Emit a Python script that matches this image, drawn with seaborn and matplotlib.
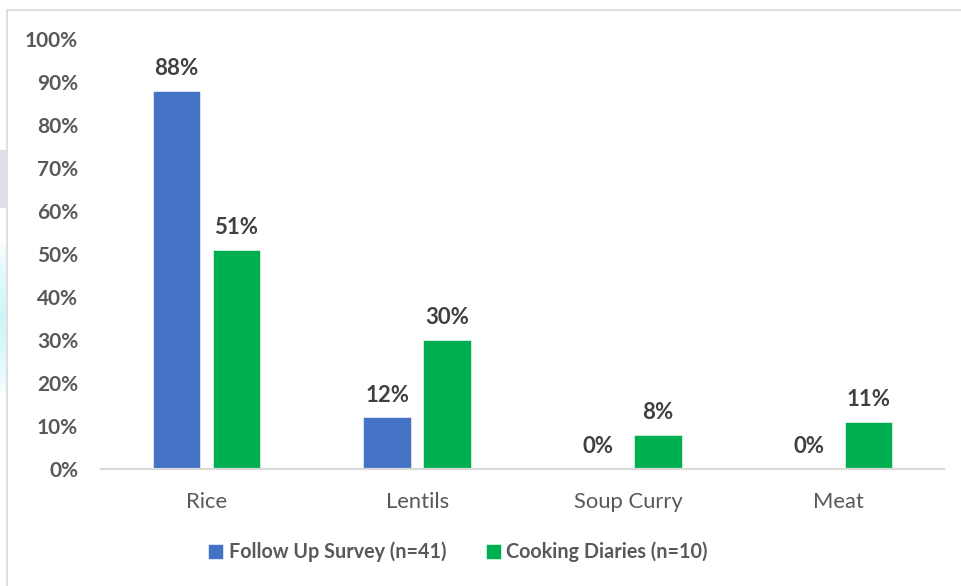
import numpy as np
import pandas as pd
import matplotlib
matplotlib.use("Agg")
import matplotlib.pyplot as plt
from matplotlib.patches import Rectangle
import seaborn as sns

# Share of households reporting each food item, by data source
categories = ["Rice", "Lentils", "Soup Curry", "Meat"]
series_names = ["Follow Up Survey (n=41)", "Cooking Diaries (n=10)"]
follow_up = [88, 12, 0, 0]
cooking_diaries = [51, 30, 8, 11]
y_ticks = [0, 10, 20, 30, 40, 50, 60, 70, 80, 90, 100]
y_tick_labels = [f"{t}%" for t in y_ticks]

colors = {series_names[0]: "#4472C4", series_names[1]: "#00B050"}

df = pd.DataFrame({
    "category": categories * 2,
    "series": [series_names[0]] * len(categories) + [series_names[1]] * len(categories),
    "value": follow_up + cooking_diaries,
})

sns.set_theme(style="white")
plt.rcParams["font.family"] = ["Lato", "DejaVu Sans"]

W, H = 961, 586
fig = plt.figure(figsize=(W / 100, H / 100), dpi=100)
fig.patch.set_facecolor("white")

# Faint tinted strip along the left edge of the page
strip = np.ones((H, 1, 4))
strip[..., 3] = 0.0
rows = np.arange(H)
gray = (rows >= 150) & (rows <= 207)
strip[gray, 0, :3] = np.array([216, 214, 224]) / 255
strip[gray, 0, 3] = 0.8
cyan_w = np.clip(1 - np.abs(rows - 318) / 75, 0, 1) ** 0.6
cyan = cyan_w > 0
strip[cyan, 0, :3] = np.array([196, 244, 248]) / 255
strip[cyan, 0, 3] = cyan_w[cyan] * 0.85
sax = fig.add_axes([0, 0, 6 / W, 1])
sax.imshow(strip, aspect="auto", interpolation="bilinear")
sax.set_axis_off()

# Chart frame
fig.add_artist(Rectangle((7 / W, -0.01), 1.2, (H - 10) / H + 0.01,
                         transform=fig.transFigure, fill=False,
                         edgecolor="#d9d9d9", linewidth=1.2))

ax = fig.add_axes([101 / W, (H - 469) / H, (944 - 101) / W, (469 - 39) / H])

sns.barplot(data=df, x="category", y="value", hue="series",
            order=categories, hue_order=series_names, palette=colors,
            width=0.57, gap=0.21, dodge=True, ax=ax,
            edgecolor="white", linewidth=0.4, saturation=1)

ax.set_xlim(-0.5, len(categories) - 0.5)
ax.set_ylim(0, 100)
ax.set_yticks(y_ticks)
ax.set_yticklabels(y_tick_labels, fontsize=15, fontweight="bold", color="#595959")
ax.tick_params(axis="y", length=0, pad=16.5)
ax.tick_params(axis="x", length=0, pad=16.5, labelsize=15.8, labelcolor="#595959")
ax.set_xlabel("")
ax.set_ylabel("")

for side in ["top", "right", "left"]:
    ax.spines[side].set_visible(False)
ax.spines["bottom"].set_color("#d9d9d9")
ax.spines["bottom"].set_linewidth(1.6)

# Value labels above each bar
for container in ax.containers:
    ax.bar_label(container, labels=[f"{v:.0f}%" for v in container.datavalues],
                 padding=8.5, fontsize=16, fontweight="bold", color="#404040",
                 clip_on=False)

handles, labels = ax.get_legend_handles_labels()
if ax.legend_ is not None:
    ax.legend_.remove()
leg = fig.legend(handles, labels, loc="center", bbox_to_anchor=(458 / W, (H - 552) / H),
                 ncol=2, frameon=False, handlelength=0.75, handleheight=0.75,
                 handletextpad=0.3, columnspacing=2.0,
                 prop={"size": 14.2, "weight": "bold"})
for t in leg.get_texts():
    t.set_color("#595959")

fig.savefig("out.png", dpi=100, facecolor="white")
